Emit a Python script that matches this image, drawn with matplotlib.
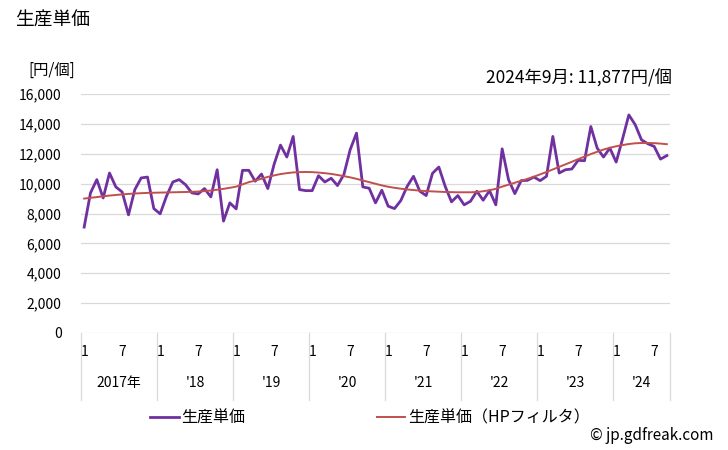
import matplotlib.pyplot as plt
import numpy as np

plt.rcParams["font.family"] = ["Noto Sans CJK JP", "DejaVu Sans"]

# monthly unit price, Jan 2017 .. Sep 2024 (yen / piece)
unit_price = [
    7090, 9380, 10270, 9040, 10710, 9780, 9440, 7910, 9600, 10380, 10440, 8330,
    7980, 9160, 10110, 10270, 9930, 9380, 9310, 9670, 9110, 10930, 7490, 8710,
    8310, 10890, 10890, 10160, 10640, 9670, 11310, 12580, 11780, 13160, 9600, 9530,
    9530, 10530, 10110, 10360, 9870, 10600, 12270, 13380, 9780, 9690, 8710, 9560,
    8490, 8330, 8870, 9820, 10490, 9490, 9200, 10690, 11110, 9820, 8780, 9200,
    8580, 8820, 9490, 8890, 9530, 8580, 12330, 10270, 9330, 10200, 10220, 10440,
    10200, 10490, 13160, 10710, 10930, 10980, 11560, 11530, 13820, 12380, 11780, 12380,
    11440, 12980, 14600, 13950, 12930, 12670, 12490, 11640, 11877,
]
hp_trend = [
    9000, 9050, 9100, 9150, 9200, 9240, 9280, 9310, 9340, 9360, 9380, 9390,
    9400, 9410, 9420, 9430, 9440, 9450, 9470, 9500, 9540, 9590, 9650, 9720,
    9800, 9950, 10100, 10200, 10330, 10450, 10550, 10640, 10700, 10750, 10770, 10780,
    10770, 10740, 10700, 10650, 10580, 10500, 10420, 10320, 10210, 10100, 9990, 9880,
    9790, 9720, 9660, 9610, 9570, 9530, 9500, 9480, 9460, 9440, 9430, 9420,
    9420, 9420, 9440, 9490, 9560, 9650, 9800, 9930, 10060, 10190, 10320, 10460,
    10620, 10780, 10950, 11120, 11290, 11460, 11640, 11810, 11980, 12130, 12280, 12400,
    12500, 12580, 12650, 12700, 12720, 12720, 12710, 12680, 12640,
]
year_labels = ["2017年", "'18", "'19", "'20", "'21", "'22", "'23", "'24"]
month_labels = ["1", "7"]
y_ticks = [0, 2000, 4000, 6000, 8000, 10000, 12000, 14000, 16000]
latest_note = "2024年9月: 11,877円/個"

W, H = 728, 450
fig = plt.figure(figsize=(W / 100, H / 100), dpi=100)
left, right, top, bottom = 81, 670, 94, 333
ax = fig.add_axes([left / W, 1 - bottom / H, (right - left) / W, (bottom - top) / H])

x = np.arange(len(unit_price))
l1, = ax.plot(x, unit_price, color="#7030A0", lw=2.0, solid_joinstyle="round")
l2, = ax.plot(x, hp_trend, color="#C0504D", lw=1.4)

ax.set_xlim(-0.5, len(unit_price) - 0.5)
ax.set_ylim(0, 16000)
ax.set_yticks(y_ticks)
ax.set_yticklabels([f"{v:,}" for v in y_ticks], fontsize=10)
ax.yaxis.grid(True, color="#d9d9d9", lw=0.9)
ax.set_axisbelow(True)
ax.set_xticks([])
ax.tick_params(axis="y", length=0, pad=14)
for s in ax.spines.values():
    s.set_visible(False)

tr = ax.get_xaxis_transform()
ah = bottom - top
for i, yl in enumerate(year_labels):
    start = 12 * i
    for j, ml in enumerate(month_labels):
        pos = start + 6 * j
        if pos < len(unit_price):
            ax.text(pos, -19 / ah, ml, transform=tr, ha="center", va="center", fontsize=10)
    end = min(start + 12, len(unit_price))
    ax.text((start - 0.5 + end - 0.5) / 2, -50 / ah, yl, transform=tr,
            ha="center", va="center", fontsize=10)
for b in list(range(0, len(unit_price), 12)) + [len(unit_price)]:
    ax.plot([b - 0.5, b - 0.5], [0, -67 / ah], transform=tr, color="#d9d9d9",
            lw=0.9, clip_on=False)

fig.text(15 / W, 1 - 20 / H, "生産単価", fontsize=13.5, ha="left", va="center")
fig.text(28 / W, 1 - 70 / H, "[円/個]", fontsize=11, ha="left", va="center")
fig.text(672 / W, 1 - 78 / H, latest_note, fontsize=12.5, ha="right", va="center")
fig.text(713 / W, 1 - 436 / H, "© jp.gdfreak.com", fontsize=11, ha="right", va="center")

fig.legend([l1, l2], ["生産単価", "生産単価（HPフィルタ）"], loc="center",
           bbox_to_anchor=(370 / W, 1 - 418 / H), ncol=2, frameon=False,
           fontsize=11.5, handlelength=1.8, handletextpad=0.15, columnspacing=8.2)

fig.savefig("out.png", dpi=100)
